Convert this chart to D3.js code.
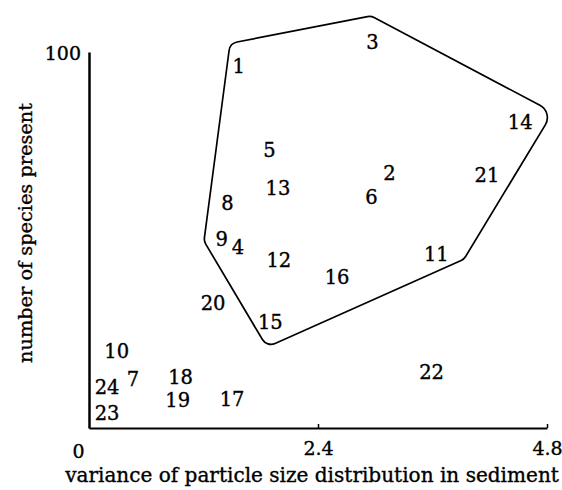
<!DOCTYPE html>
<html>
<head>
<meta charset="utf-8">
<script src="https://cdn.jsdelivr.net/npm/d3@7"></script>
<style>
  body { margin: 0; background: #fff; }
  text { font-family: "DejaVu Serif", serif; fill: #000; stroke: #000; stroke-width: 0.35px; }
</style>
</head>
<body>
<div id="container"></div>
<script>
// Station numbers and their positions (variance, species count).
const stations = ['1', '2', '3', '4', '5', '6', '7', '8', '9', '10', '11', '12',
  '13', '14', '15', '16', '17', '18', '19', '20', '21', '22', '23', '24'];
const variance = [1.57, 3.15, 2.97, 1.56, 1.89, 2.96, 0.46, 1.45, 1.39, 0.29, 3.64, 1.99,
  1.98, 4.52, 1.90, 2.60, 1.50, 0.96, 0.93, 1.30, 4.17, 3.59, 0.19, 0.19];
const species = [96.3, 67.8, 102.7, 48.1, 73.9, 61.4, 13.0, 59.8, 50.3, 20.5, 46.3, 44.7,
  63.8, 81.4, 28.2, 40.2, 7.7, 13.6, 7.4, 33.2, 67.3, 14.9, 4.0, 10.9];

// Corners of the outline drawn round the main group.
const hullX = [1.478, 2.955, 4.863, 3.93, 1.865, 1.205];
const hullY = [102.3, 109.6, 84.0, 44.9, 21.5, 49.7];

const xTicks = [0, 2.4, 4.8];
const yTicks = [100];
const xTitle = 'variance of particle size distribution in sediment';
const yTitle = 'number of species present';

const width = 562, height = 490;

const svg = d3.select('#container')
  .append('svg')
  .attr('width', width)
  .attr('height', height);

const x = d3.scaleLinear().domain([0, 4.8]).range([89, 547]);
const y = d3.scaleLinear().domain([0, 100]).range([428, 52]);

// Axes.
const xAxis = svg.append('g')
  .attr('transform', `translate(0, ${y(0)})`)
  .call(d3.axisBottom(x).tickValues(xTicks).tickSizeInner(-4).tickSizeOuter(0)
    .tickPadding(13).tickFormat(d3.format('')));
xAxis.select('.domain').attr('stroke-width', 2);
xAxis.selectAll('.tick line').attr('stroke-width', 1.5);
xAxis.selectAll('.tick text')
  .attr('font-size', 19)
  .attr('font-family', '"DejaVu Serif", serif')
  .attr('dx', d => (d === 0 ? -11 : 0))
  .attr('dy', d => (d === 0 ? '0.9em' : '0.75em'));
xAxis.selectAll('.tick').filter(d => d === 0).select('line').remove();

const yAxis = svg.append('g')
  .attr('transform', `translate(${x(0)}, 0)`)
  .call(d3.axisLeft(y).tickValues(yTicks).tickSize(0).tickPadding(8));
yAxis.select('.domain').attr('stroke-width', 2.5);
yAxis.selectAll('.tick text')
  .attr('font-size', 19)
  .attr('font-family', '"DejaVu Serif", serif')
  .attr('dy', '0.42em');

// Rounded outline.
const corners = hullX.map((d, i) => [x(d), y(hullY[i])]);
const path = d3.path();
const n = corners.length;
const start = [(corners[n - 1][0] + corners[0][0]) / 2, (corners[n - 1][1] + corners[0][1]) / 2];
path.moveTo(start[0], start[1]);
corners.forEach((c, i) => {
  const next = corners[(i + 1) % n];
  path.arcTo(c[0], c[1], next[0], next[1], i === 2 ? 14 : 10);
});
path.closePath();

svg.append('path')
  .attr('d', path.toString())
  .attr('fill', 'none')
  .attr('stroke', '#000')
  .attr('stroke-width', 1.7)
  .attr('stroke-linejoin', 'round');

// Station labels.
svg.append('g')
  .selectAll('text')
  .data(stations)
  .enter()
  .append('text')
  .attr('x', (d, i) => x(variance[i]))
  .attr('y', (d, i) => y(species[i]))
  .attr('dy', '0.36em')
  .attr('text-anchor', 'middle')
  .attr('font-size', 19.5)
  .text(d => d);

// Titles, sized to the length they have in the original.
function fit(sel, target) {
  let size = 18;
  sel.attr('font-size', size);
  const len = sel.node().getComputedTextLength();
  sel.attr('font-size', size * target / len);
}

const xt = svg.append('text')
  .attr('x', 312)
  .attr('y', 482)
  .attr('text-anchor', 'middle')
  .text(xTitle);
fit(xt, 494);

const yt = svg.append('text')
  .attr('transform', 'translate(32, 233) rotate(-90)')
  .attr('text-anchor', 'middle')
  .text(yTitle);
fit(yt, 260);
</script>
</body>
</html>
